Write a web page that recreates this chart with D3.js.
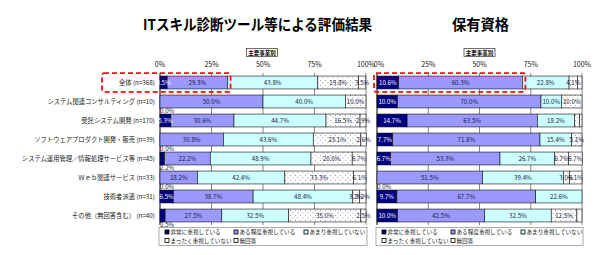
<!DOCTYPE html>
<html lang="ja">
<head>
<meta charset="UTF-8">
<title>評価結果・保有資格</title>
<style>
  body { margin: 0; background: #fff; }
  svg { display: block; font-family: "Noto Sans CJK JP", "Noto Sans", sans-serif; }
</style>
<script src="https://cdn.jsdelivr.net/npm/d3@7"></script>
</head>
<body>
<svg id="chart" width="613" height="255"></svg>
<script>
const categories = [
  '全体 (n=368)',
  'システム関連コンサルティング (n=10)',
  '受託システム開発 (n=170)',
  'ソフトウェアプロダクト開発・販売 (n=39)',
  'システム運用管理／情報処理サービス等 (n=45)',
  'Ｗｅｂ関連サービス (n=33)',
  '技術者派遣 (n=31)',
  'その他（無回答含む） (n=40)'
];
const series = ['非常に重視している', 'ある程度重視している', 'あまり重視していない', 'まったく重視していない', '無回答'];
const tickLabels = ['0%', '25%', '50%', '75%', '100%'];
const tickValues = [0, 25, 50, 75, 100];

// ITスキル診断ツール等による評価結果
const skillValues = [
  [3.5, 29.3, 43.8, 19.8, 3.5],
  [0.0, 50.0, 40.0, 10.0, 0.0],
  [5.3, 30.6, 44.7, 16.5, 2.9],
  [0.0, 30.8, 43.6, 23.1, 2.6],
  [2.2, 22.2, 48.9, 20.0, 6.7],
  [0.0, 18.2, 42.4, 33.3, 6.1],
  [6.5, 38.7, 48.4, 3.2, 3.2],
  [2.5, 27.5, 32.5, 35.0, 2.5]
];
// 保有資格
const certValues = [
  [10.6, 60.3, 22.8, 4.1, 2.2],
  [10.0, 70.0, 10.0, 10.0, 0.0],
  [14.7, 63.5, 18.2, 2.4, 1.2],
  [7.7, 71.8, 15.4, 5.1, 0.0],
  [6.7, 53.3, 26.7, 6.7, 6.7],
  [0.0, 51.5, 39.4, 3.0, 6.1],
  [9.7, 67.7, 22.6, 0.0, 0.0],
  [10.0, 42.5, 32.5, 12.5, 2.5]
];

const svg = d3.select('#chart');
const defs = svg.append('defs');

// sparse dotted fills like the excel patterns
function dots(id, step, color) {
  const p = defs.append('pattern').attr('id', id)
    .attr('width', step).attr('height', step)
    .attr('patternUnits', 'userSpaceOnUse');
  p.append('rect').attr('width', step).attr('height', step).attr('fill', '#fff');
  p.append('rect').attr('x', 0).attr('y', 0).attr('width', 0.8).attr('height', 0.8).attr('fill', color);
  p.append('rect').attr('x', step / 2).attr('y', step / 2).attr('width', 0.8).attr('height', 0.8).attr('fill', color);
}
dots('dotA', 5, '#6a6aa8');
dots('dotB', 7, '#888');

const fills = ['#000080', '#9999ff', '#ccffff', 'url(#dotA)', 'url(#dotB)'];
const legendFills = ['#000080', '#9999ff', '#ccffff', '#fff', '#fff'];

const y = d3.scaleBand().domain(categories).range([73, 225])
  .paddingInner(0.32).paddingOuter(0.16);

function drawChart(opt) {
  const g = svg.append('g');
  const x = d3.scaleLinear().domain([0, 100]).range([opt.x0, opt.x1]);

  g.append('text')
    .attr('x', opt.titleX).attr('y', 30)
    .attr('text-anchor', 'middle')
    .attr('font-size', 15).attr('font-weight', 'bold')
    .attr('textLength', opt.titleLen).attr('lengthAdjust', 'spacingAndGlyphs')
    .text(opt.title);

  // 主要事業別 box
  const bx = (opt.x0 + opt.x1) / 2 + opt.boxShift;
  g.append('rect').attr('x', bx - 15.5).attr('y', 48.5).attr('width', 31).attr('height', 8)
    .attr('fill', '#fff').attr('stroke', '#333').attr('stroke-width', 0.7);
  g.append('text').attr('x', bx).attr('y', 55).attr('text-anchor', 'middle')
    .attr('font-size', 5.5).attr('font-weight', 'bold').text('主要事業別');

  // tick labels on top
  g.selectAll('.tick').data(tickValues).join('text')
    .attr('x', d => x(d) + (d === 0 ? opt.zeroShift : 0)).attr('y', 67)
    .attr('text-anchor', 'middle').attr('font-size', 7).attr('fill', '#222')
    .text((d, i) => tickLabels[i]);

  // gridlines
  g.selectAll('.grid').data(tickValues).join('line')
    .attr('x1', d => x(d)).attr('x2', d => x(d))
    .attr('y1', 73).attr('y2', 225)
    .attr('stroke', d => d === 0 ? '#000' : '#555').attr('stroke-width', d => d === 0 ? 1 : 0.7);

  const rows = opt.values.map((vals, r) => {
    let acc = 0;
    return vals.map((v, s) => {
      const seg = { cat: categories[r], s, v, start: acc, end: acc + v };
      acc += v;
      return seg;
    });
  });

  const rowG = g.selectAll('.row').data(rows).join('g');
  rowG.selectAll('rect').data(d => d.filter(e => e.v > 0)).join('rect')
    .attr('x', d => x(d.start)).attr('y', d => y(d.cat))
    .attr('width', d => x(d.end) - x(d.start)).attr('height', y.bandwidth())
    .attr('fill', d => fills[d.s])
    .attr('stroke', '#111').attr('stroke-width', 0.6);

  // value labels
  rowG.selectAll('text').data(d => d.filter(e => e.s === 0 ? true : e.v >= opt.minLabel)).join('text')
    .attr('x', d => d.s === 0 && d.v < 3 ? x(0) : x((d.start + d.end) / 2))
    .attr('y', d => d.s === 0 && d.v < 3 ? y(d.cat) + y.bandwidth() + 5.5 : y(d.cat) + y.bandwidth() / 2 + 2.3)
    .attr('text-anchor', d => d.s === 0 && d.v < 3 ? 'start' : 'middle')
    .attr('font-size', 6.2)
    .attr('fill', d => d.s === 0 && d.v >= 3 ? '#fff' : '#1a1a40')
    .text(d => d.v.toFixed(1) + '%');

  // red dashed highlight on 全体
  const first = rows[0];
  g.append('rect')
    .attr('x', opt.boxLeft).attr('y', y(categories[0]) - 3)
    .attr('width', x(first[1].end) + 3 - opt.boxLeft).attr('height', y.bandwidth() + 6)
    .attr('rx', 2).attr('fill', 'none')
    .attr('stroke', '#ee1111').attr('stroke-width', 1.8).attr('stroke-dasharray', '5,3');

  // legend
  g.append('rect').attr('x', opt.x0 - 1).attr('y', 227.5).attr('width', opt.x1 - opt.x0 + 2).attr('height', 18)
    .attr('fill', '#fff').attr('stroke', '#888').attr('stroke-width', 0.7);
  const pos = [[9, 233], [78, 233], [148, 233], [9, 241.5], [78, 241.5]];
  const lg = g.selectAll('.lg').data(series).join('g')
    .attr('transform', (d, i) => `translate(${opt.x0 + pos[i][0]},${pos[i][1]})`);
  lg.append('rect').attr('x', -4).attr('y', -3).attr('width', 4).attr('height', 4)
    .attr('fill', (d, i) => legendFills[i]).attr('stroke', '#000').attr('stroke-width', 0.8);
  lg.append('text').attr('x', 1.5).attr('y', 1.2).attr('font-size', 5.6).attr('fill', '#222').text(d => d);
}

// category labels
svg.append('g').selectAll('text').data(categories).join('text')
  .attr('x', 155).attr('y', d => y(d) + y.bandwidth() / 2 + 2.2)
  .attr('text-anchor', 'end').attr('font-size', 6.3).attr('fill', '#222')
  .text(d => d);

drawChart({ title: 'ITスキル診断ツール等による評価結果', titleX: 257.5, titleLen: 229,
  x0: 160, x1: 366, values: skillValues, minLabel: 2.5, boxShift: -1, boxLeft: 102, zeroShift: 0 });
drawChart({ title: '保有資格', titleX: 480.5, titleLen: 57,
  x0: 377, x1: 582, values: certValues, minLabel: 3, boxShift: 0, boxLeft: 374, zeroShift: 2 });
</script>
</body>
</html>
